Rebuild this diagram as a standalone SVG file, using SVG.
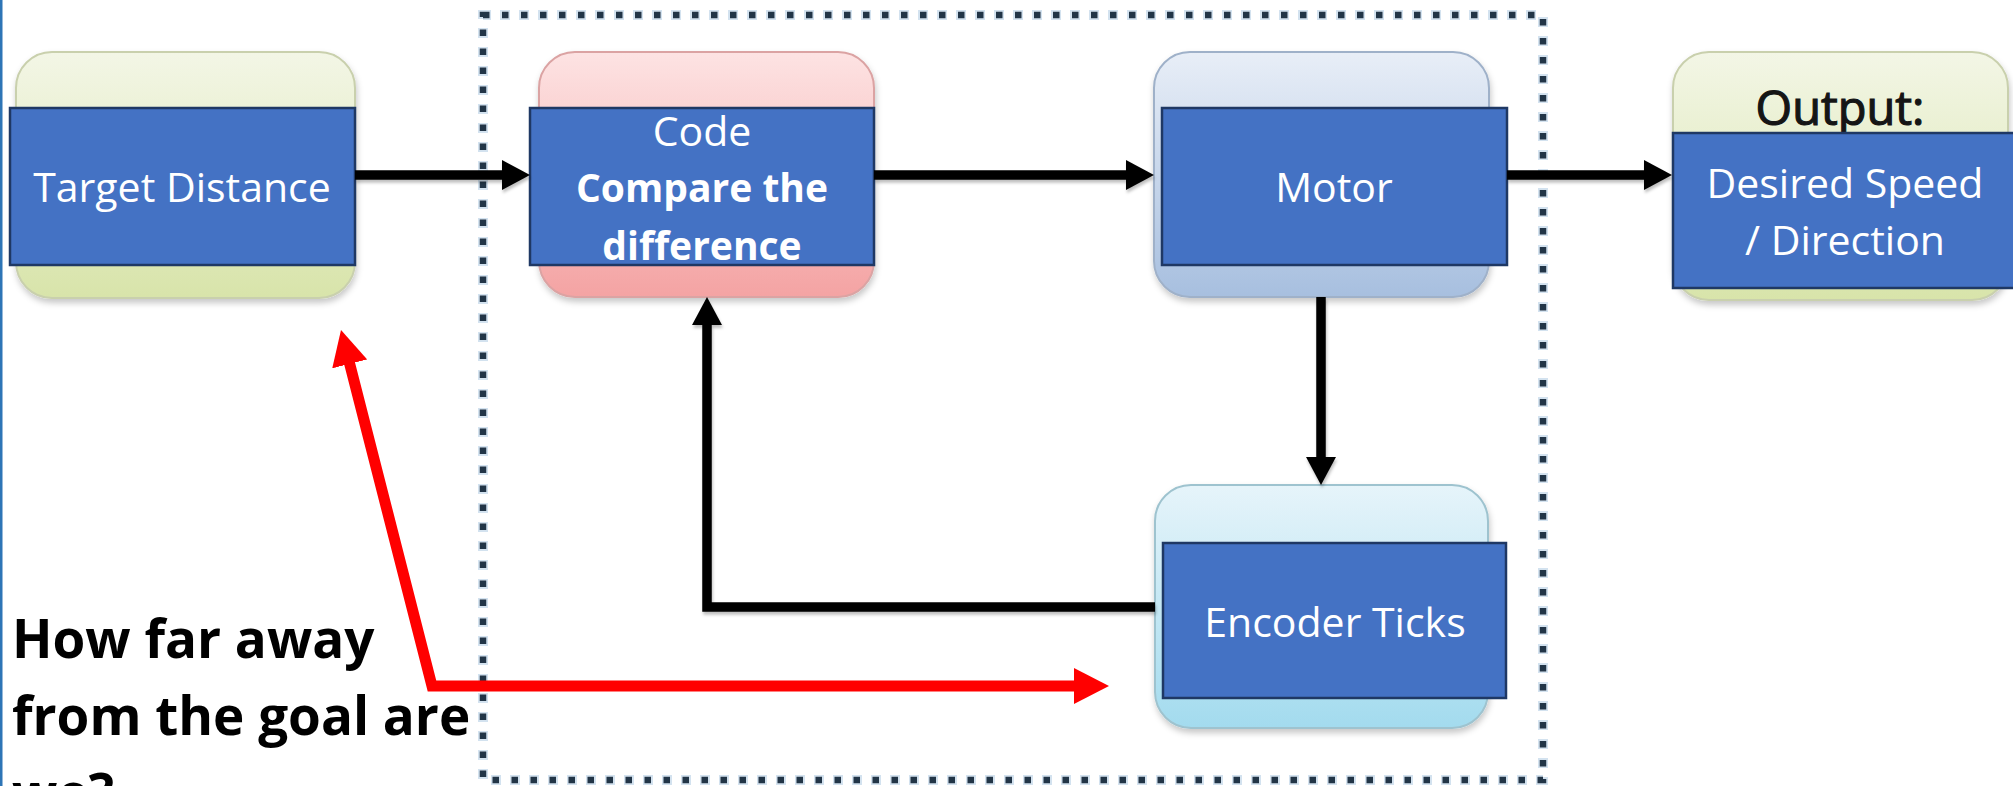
<svg xmlns="http://www.w3.org/2000/svg" width="2013" height="786" viewBox="0 0 2013 786">
  <style>
    .card { stroke-width: 2; }
    .label { fill: #4472c4; stroke: #1f3864; stroke-width: 2.5; }
    .txt { font-family: "Open Sans", "Liberation Sans", sans-serif; font-size: 41px; fill: #ffffff; text-anchor: middle; }
    .bold { font-weight: 700; font-size: 39px; }
    .flow { fill: none; stroke: #000000; stroke-width: 9.5; stroke-linejoin: miter; }
    .note { fill: none; stroke: #ff0000; stroke-width: 11; stroke-linejoin: miter; }
    .ask { font-family: "Open Sans", "Liberation Sans", sans-serif; font-size: 53px; font-weight: 700; fill: #000000; }
  </style>
  <defs>
    <linearGradient id="gGreen" x1="0" y1="0" x2="0" y2="1">
      <stop offset="0" stop-color="#f3f6e6"/>
      <stop offset="1" stop-color="#d8e4aa"/>
    </linearGradient>
    <linearGradient id="gPink" x1="0" y1="0" x2="0" y2="1">
      <stop offset="0" stop-color="#fde3e3"/>
      <stop offset="1" stop-color="#f4a3a3"/>
    </linearGradient>
    <linearGradient id="gBlue" x1="0" y1="0" x2="0" y2="1">
      <stop offset="0" stop-color="#e8eef7"/>
      <stop offset="1" stop-color="#a7bfdf"/>
    </linearGradient>
    <linearGradient id="gCyan" x1="0" y1="0" x2="0" y2="1">
      <stop offset="0" stop-color="#e6f4fa"/>
      <stop offset="1" stop-color="#a3dbee"/>
    </linearGradient>
    <filter id="shade" x="-10%" y="-10%" width="120%" height="130%">
      <feDropShadow dx="1" dy="4" stdDeviation="3" flood-color="#000000" flood-opacity="0.22"/>
    </filter>
    <filter id="lineShade" x="-5%" y="-5%" width="110%" height="110%">
      <feDropShadow dx="1" dy="3" stdDeviation="1.5" flood-color="#000000" flood-opacity="0.25"/>
    </filter>
    <filter id="soften" x="-2%" y="-2%" width="104%" height="104%">
      <feGaussianBlur stdDeviation="0.6"/>
    </filter>
    <marker id="headBlack" viewBox="0 0 28 30" refX="8" refY="15" markerWidth="28" markerHeight="30" markerUnits="userSpaceOnUse" orient="auto">
      <path d="M0,0 L28,15 L0,30 z" fill="#000000"/>
    </marker>
    <marker id="headRed" viewBox="0 0 35 36" refX="10" refY="18" markerWidth="35" markerHeight="36" markerUnits="userSpaceOnUse" orient="auto-start-reverse">
      <path d="M0,0 L35,18 L0,36 z" fill="#ff0000"/>
    </marker>
  </defs>

  <rect width="2013" height="786" fill="#ffffff"/>
  <rect x="0" y="0" width="2.5" height="786" fill="#2e75b6"/>

  <!-- closed-loop boundary: dark square dots with a pale halo -->
  <g id="loop-boundary" filter="url(#soften)">
    <rect x="483" y="15" width="1060" height="765" fill="none" stroke="#d3e2ef" stroke-width="10" stroke-dasharray="10 9" stroke-dashoffset="2"/>
    <rect x="483" y="15" width="1060" height="765" fill="none" stroke="#243446" stroke-width="6.5" stroke-dasharray="6.5 12.5"/>
  </g>

  <g id="node-target">
    <rect class="card" x="16" y="52" width="339" height="246" rx="36" fill="url(#gGreen)" stroke="#c9d0ad" filter="url(#shade)"/>
    <rect class="label" x="10" y="108" width="345" height="157"/>
    <text class="txt" x="182" y="202">Target Distance</text>
  </g>

  <g id="node-code">
    <rect class="card" x="539" y="52" width="335" height="245" rx="36" fill="url(#gPink)" stroke="#dba3a3" filter="url(#shade)"/>
    <rect class="label" x="530" y="108" width="344" height="157"/>
    <text class="txt" x="702" y="146">Code</text>
    <text class="txt bold" x="702" y="202">Compare the</text>
    <text class="txt bold" x="702" y="260">difference</text>
  </g>

  <g id="node-motor">
    <rect class="card" x="1154" y="52" width="335" height="245" rx="36" fill="url(#gBlue)" stroke="#9fb1c9" filter="url(#shade)"/>
    <rect class="label" x="1162" y="108" width="345" height="157"/>
    <text class="txt" x="1334" y="202">Motor</text>
  </g>

  <g id="node-output">
    <rect class="card" x="1673" y="52" width="335" height="248" rx="36" fill="url(#gGreen)" stroke="#c9d0ad" filter="url(#shade)"/>
    <text x="1840" y="125" font-family="'Open Sans', 'Liberation Sans', sans-serif" font-size="47" fill="#151515" stroke="#151515" stroke-width="1.2" text-anchor="middle">Output:</text>
    <rect class="label" x="1673" y="133" width="344" height="155"/>
    <text class="txt" x="1845" y="198">Desired Speed</text>
    <text class="txt" x="1845" y="255">/ Direction</text>
  </g>

  <g id="node-encoder">
    <rect class="card" x="1155" y="485" width="333" height="243" rx="36" fill="url(#gCyan)" stroke="#9ec3cf" filter="url(#shade)"/>
    <rect class="label" x="1163" y="543" width="343" height="155"/>
    <text class="txt" x="1335" y="637">Encoder Ticks</text>
  </g>

  <g id="connectors" filter="url(#lineShade)">
    <path class="flow" d="M355,175 H510" marker-end="url(#headBlack)"/>
    <path class="flow" d="M874,175 H1134" marker-end="url(#headBlack)"/>
    <path class="flow" d="M1507,175 H1652" marker-end="url(#headBlack)"/>
    <path class="flow" d="M1321,297 V465" marker-end="url(#headBlack)"/>
    <path class="flow" d="M1155,607 H707 V317" marker-end="url(#headBlack)"/>
  </g>

  <g id="annotation">
    <path class="note" d="M347.2,354.2 L432,686 L1084,686" marker-start="url(#headRed)" marker-end="url(#headRed)"/>
    <text class="ask" x="12" y="658">How far away</text>
    <text class="ask" x="12" y="735">from the goal are</text>
    <text class="ask" x="12" y="812">we?</text>
  </g>
</svg>
